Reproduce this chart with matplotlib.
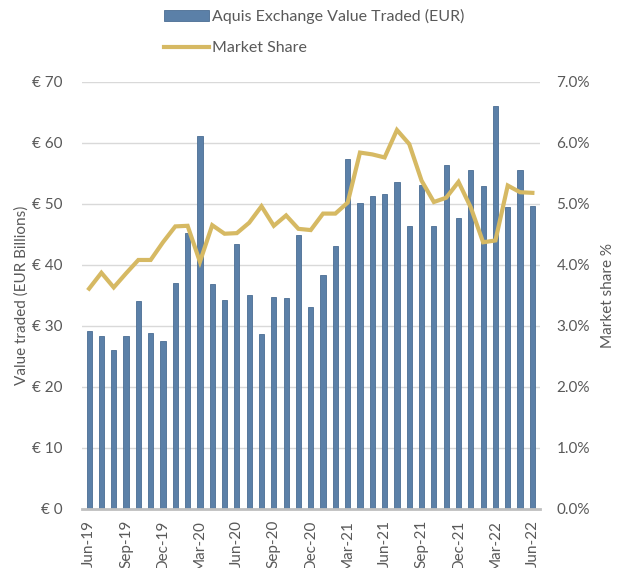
import numpy as np
import matplotlib.pyplot as plt
from matplotlib.ticker import FuncFormatter

plt.rcParams['font.family'] = ['Lato', 'DejaVu Sans']

months = ["Jun-19", "Jul-19", "Aug-19", "Sep-19", "Oct-19", "Nov-19", "Dec-19",
          "Jan-20", "Feb-20", "Mar-20", "Apr-20", "May-20", "Jun-20", "Jul-20",
          "Aug-20", "Sep-20", "Oct-20", "Nov-20", "Dec-20", "Jan-21", "Feb-21",
          "Mar-21", "Apr-21", "May-21", "Jun-21", "Jul-21", "Aug-21", "Sep-21",
          "Oct-21", "Nov-21", "Dec-21", "Jan-22", "Feb-22", "Mar-22", "Apr-22",
          "May-22", "Jun-22"]

# value traded, EUR billions
value_traded = [29.1, 28.4, 26.0, 28.4, 34.0, 28.9, 27.5, 37.1, 45.2, 61.1,
                36.9, 34.2, 43.4, 35.1, 28.7, 34.7, 34.5, 44.9, 33.1, 38.4,
                43.1, 57.3, 50.2, 51.3, 51.6, 53.5, 46.3, 53.1, 46.3, 56.3,
                47.7, 55.5, 53.0, 66.1, 49.5, 55.5, 49.7]

# market share, %
market_share = [3.61, 3.87, 3.63, 3.86, 4.08, 4.08, 4.37, 4.63, 4.64, 4.05,
                4.65, 4.51, 4.52, 4.69, 4.96, 4.64, 4.81, 4.59, 4.57, 4.84,
                4.84, 5.02, 5.84, 5.81, 5.76, 6.21, 5.98, 5.38, 5.03, 5.10,
                5.36, 4.94, 4.37, 4.40, 5.30, 5.19, 5.18]

txt = "#595959"
bar_col = "#5b80a8"
line_col = "#d6b963"

fig = plt.figure(figsize=(6.19, 5.68), dpi=100)
ax = fig.add_axes([0.132, 0.104, 0.74, 0.752])
ax2 = ax.twinx()

x = np.arange(len(months))
bars = ax.bar(x, value_traded, width=0.42, color=bar_col, edgecolor="#4a6d93",
              linewidth=0.6, zorder=2, label="Aquis Exchange Value Traded (EUR)")
line, = ax2.plot(x, market_share, color=line_col, lw=3, zorder=3,
                 label="Market Share", solid_joinstyle="miter")

ax.set_xlim(-0.6, len(months) - 0.4)
ax.set_ylim(0, 70)
ax2.set_ylim(0, 7)
ax.set_yticks(np.arange(0, 71, 10))
ax2.set_yticks(np.arange(0, 7.1, 1))
ax.yaxis.set_major_formatter(FuncFormatter(lambda v, p: "€ %d" % v))
ax2.yaxis.set_major_formatter(FuncFormatter(lambda v, p: "%.1f%%" % v))

ax.grid(axis="y", color="#d9d9d9", lw=1, zorder=0)
ax.set_axisbelow(True)

ax.set_xticks(x[::3])
ax.set_xticklabels(months[::3], rotation=90, fontsize=11, color=txt)
for a in (ax, ax2):
    for s in a.spines.values():
        s.set_visible(False)
    a.tick_params(axis="y", length=0, labelsize=11, labelcolor=txt, pad=14)
ax.spines["bottom"].set_visible(True)
ax.spines["bottom"].set_color("#bfbfbf")
ax.spines["bottom"].set_linewidth(2)
ax.tick_params(axis="x", length=0, pad=8)
ax2.tick_params(axis="y", pad=12)

ax.set_ylabel("Value traded (EUR Billions)", fontsize=11, color=txt, labelpad=2)
ax2.set_ylabel("Market share %", fontsize=11, color=txt, rotation=90, labelpad=8)

fig.legend(handles=[bars, line], loc="upper left", bbox_to_anchor=(0.242, 1.009),
           frameon=False, fontsize=11.5, labelcolor=txt, handlelength=2.8,
           handletextpad=0.2, labelspacing=1.05)

fig.savefig("out.png", dpi=100)
